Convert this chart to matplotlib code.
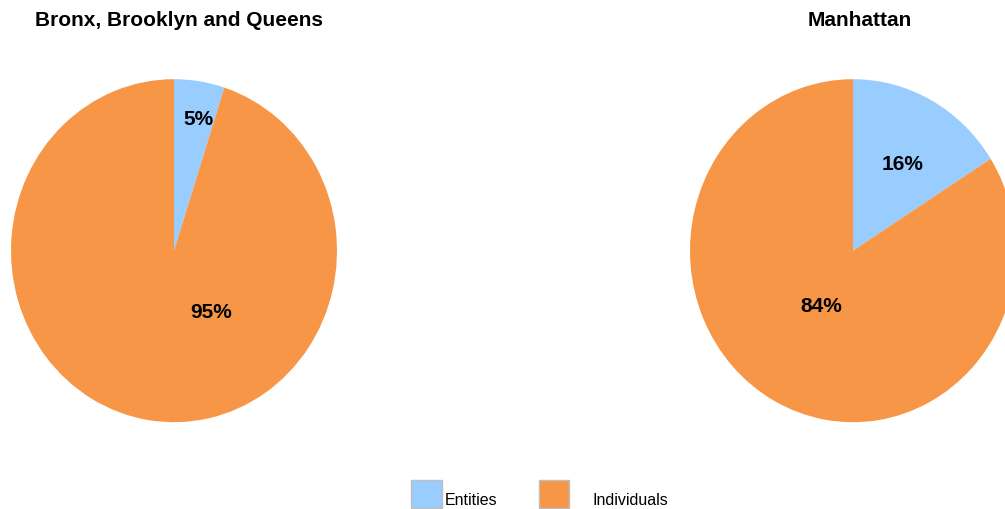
import matplotlib
matplotlib.use('Agg')
import matplotlib.pyplot as plt
from matplotlib.patches import Rectangle

plt.rcParams['font.family'] = ['Liberation Sans', 'DejaVu Sans']

# Data
categories = ['Entities', 'Individuals']
outer_boroughs = [5, 95]
manhattan = [16, 84]
titles = ['Bronx, Brooklyn and Queens', 'Manhattan']
colors = ['#99CCFF', '#F79646']

W, H = 1005, 510
fig = plt.figure(figsize=(W / 100, H / 100), dpi=100)

# pies are slightly taller than wide in the reference
RX, RY = 163, 171.5
CY = 251.7

def pie_axes(cx):
    return fig.add_axes([(cx - RX) / W, (H - CY - RY) / H, 2 * RX / W, 2 * RY / H])

def draw_pie(ax, values, label_pos):
    wedges, texts, autotexts = ax.pie(values, colors=colors, startangle=90,
                                      counterclock=False, autopct='%1.0f%%',
                                      wedgeprops={'linewidth': 0},
                                      textprops={'fontsize': 15, 'fontweight': 'bold',
                                                 'color': 'black'})
    ax.set_aspect('auto')
    ax.set_xlim(-1, 1)
    ax.set_ylim(-1, 1)
    ax.axis('off')
    for t, pos in zip(autotexts, label_pos):
        t.set_position(pos)
        t.set_ha('center')
        t.set_va('center')

ax1 = pie_axes(174)
draw_pie(ax1, outer_boroughs, [(0.153, 0.768), (0.225, -0.353)])

ax2 = pie_axes(853)
draw_pie(ax2, manhattan, [(0.305, 0.506), (-0.192, -0.321)])

# Titles
fig.text(179 / W, 1 - 20 / H, titles[0], ha='center', va='center',
         fontsize=15, fontweight='bold')
fig.text(860 / W, 1 - 20 / H, titles[1], ha='center', va='center',
         fontsize=15, fontweight='bold')

# Legend drawn in pixel space
lax = fig.add_axes([0, 0, 1, 1], zorder=-1)
lax.set_xlim(0, W)
lax.set_ylim(H, 0)
lax.axis('off')
lax.add_patch(Rectangle((411, 481), 31, 28, facecolor=colors[0], edgecolor='#BFBFBF', lw=1))
lax.text(445, 501, categories[0], fontsize=11.5, va='center', ha='left')
lax.add_patch(Rectangle((539, 481), 30, 28, facecolor=colors[1], edgecolor='#BFBFBF', lw=1))
lax.text(592, 501, categories[1], fontsize=11.5, va='center', ha='left')

fig.savefig('out.png', dpi=100)
